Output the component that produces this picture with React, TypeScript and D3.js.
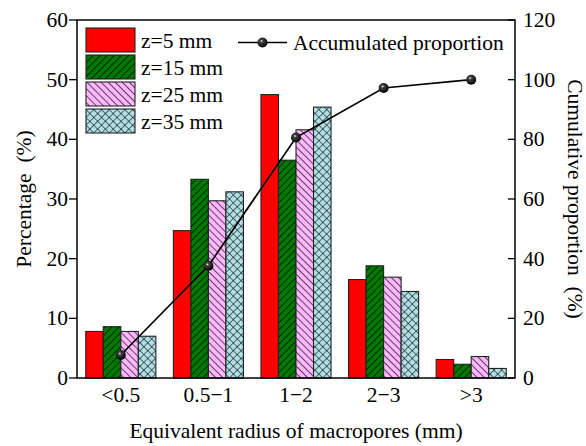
import React from "react";
import { scaleBand, scaleLinear, line } from "d3";

// categories and series
const categories = ["<0.5", "0.5\u22121", "1\u22122", "2\u22123", ">3"];
const seriesNames = ["z=5 mm", "z=15 mm", "z=25 mm", "z=35 mm"];
const z5 = [7.8, 24.7, 47.5, 16.5, 3.1];
const z15 = [8.6, 33.3, 36.5, 18.8, 2.3];
const z25 = [7.8, 29.7, 41.6, 16.9, 3.6];
const z35 = [7.0, 31.2, 45.4, 14.5, 1.6];
const accumulated = [7.7, 37.6, 80.6, 97.2, 100];
const leftTicks = [0, 10, 20, 30, 40, 50, 60];
const rightTicks = [0, 20, 40, 60, 80, 100, 120];

const fills = ["#ff0000", "url(#hatchGreen)", "url(#hatchPink)", "url(#hatchCyan)"];
const FONT = "Liberation Serif, DejaVu Serif, serif";

export default function App() {
  const width = 586;
  const height = 446;
  const m = { left: 77, right: 515, top: 20, bottom: 378 };
  const series = [z5, z15, z25, z35];

  const x = scaleBand<string>()
    .domain(categories)
    .range([m.left, m.right])
    .paddingInner(0.2)
    .paddingOuter(0.1);
  const xs = scaleBand<number>()
    .domain(series.map((_, i) => i))
    .range([0, x.bandwidth()]);
  const y = scaleLinear().domain([0, 60]).range([m.bottom, m.top]);
  const y2 = scaleLinear().domain([0, 120]).range([m.bottom, m.top]);

  const cx = (c: string) => (x(c) ?? 0) + x.bandwidth() / 2;
  const path = line<number>()
    .x((_, i) => cx(categories[i]))
    .y((d) => y2(d))(accumulated);

  const txt = { fontFamily: FONT, fontSize: 21.5 };

  return (
    <svg width={width} height={height} style={{ position: "absolute", left: 0, top: 0 }}>
      <defs>
        <pattern id="hatchGreen" patternUnits="userSpaceOnUse" width="5" height="5" patternTransform="rotate(45)">
          <rect width="5" height="5" fill="#007a00" />
          <line x1="0" y1="0" x2="0" y2="5" stroke="#000" strokeWidth="1.4" />
        </pattern>
        <pattern id="hatchPink" patternUnits="userSpaceOnUse" width="5" height="5" patternTransform="rotate(-45)">
          <rect width="5" height="5" fill="#ffb8ff" />
          <line x1="0" y1="0" x2="0" y2="5" stroke="#000" strokeWidth="1.3" />
        </pattern>
        <pattern id="hatchCyan" patternUnits="userSpaceOnUse" width="5.5" height="5.5" patternTransform="rotate(45)">
          <rect width="5.5" height="5.5" fill="#b0e0e6" />
          <line x1="0" y1="0" x2="0" y2="5.5" stroke="#000" strokeWidth="1.1" />
          <line x1="0" y1="0" x2="5.5" y2="0" stroke="#000" strokeWidth="1.1" />
        </pattern>
        <radialGradient id="ball" cx="40%" cy="35%" r="65%">
          <stop offset="0%" stopColor="#ffffff" />
          <stop offset="22%" stopColor="#444" />
          <stop offset="100%" stopColor="#000" />
        </radialGradient>
      </defs>

      {/* bars */}
      {categories.map((c, ci) => (
        <g key={c}>
          {series.map((s, si) => (
            <rect
              key={si}
              x={(x(c) ?? 0) + (xs(si) ?? 0)}
              y={y(s[ci])}
              width={xs.bandwidth()}
              height={y(0) - y(s[ci])}
              fill={fills[si]}
              stroke="#222"
              strokeWidth={1.1}
            />
          ))}
        </g>
      ))}

      {/* accumulated line */}
      <path d={path ?? ""} fill="none" stroke="#000" strokeWidth={1.7} />
      {accumulated.map((d, i) => (
        <circle key={i} cx={cx(categories[i])} cy={y2(d)} r={5} fill="url(#ball)" />
      ))}

      {/* frame */}
      <rect x={m.left} y={m.top} width={m.right - m.left} height={m.bottom - m.top} fill="none" stroke="#000" strokeWidth={1.5} />

      {/* left axis */}
      {leftTicks.map((t) => (
        <g key={t}>
          <line x1={m.left - 8} x2={m.left} y1={y(t)} y2={y(t)} stroke="#000" strokeWidth={1.3} />
          <text x={m.left - 9} y={y(t)} dy="0.33em" textAnchor="end" style={txt}>{t}</text>
        </g>
      ))}
      {/* right axis */}
      {rightTicks.map((t) => (
        <g key={t}>
          <line x1={m.right - 7} x2={m.right} y1={y2(t)} y2={y2(t)} stroke="#000" strokeWidth={1.3} />
          <text x={m.right + 8} y={y2(t)} dy="0.33em" textAnchor="start" style={txt}>{t}</text>
        </g>
      ))}
      {/* x tick labels */}
      {categories.map((c) => (
        <text key={c} x={cx(c)} y={m.bottom + 24} textAnchor="middle" style={txt}>{c}</text>
      ))}

      {/* axis titles */}
      <text x={(m.left + m.right) / 2} y={438} textAnchor="middle" style={txt}>
        Equivalent radius of macropores (mm)
      </text>
      <text transform={`translate(31,${(m.top + m.bottom) / 2}) rotate(-90)`} textAnchor="middle" style={txt}>
        {"Percentage\u00a0\u00a0(%)"}
      </text>
      <text transform={`translate(568,${(m.top + m.bottom) / 2}) rotate(90)`} textAnchor="middle" style={txt}>
        {"Cumulative proportion\u00a0\u00a0(%)"}
      </text>

      {/* legend */}
      {seriesNames.map((n, i) => (
        <g key={n} transform={`translate(86,${28 + i * 27})`}>
          <rect width={49} height={24} fill={fills[i]} stroke="#222" strokeWidth={1.1} />
          <text x={55} y={12} dy="0.35em" style={txt}>{n}</text>
        </g>
      ))}
      <g transform="translate(238,42.5)">
        <line x1={0} x2={49} y1={0} y2={0} stroke="#000" strokeWidth={1.7} />
        <circle cx={24.5} cy={0} r={5} fill="url(#ball)" />
        <text x={55} y={0} dy="0.35em" style={txt}>Accumulated proportion</text>
      </g>
    </svg>
  );
}
